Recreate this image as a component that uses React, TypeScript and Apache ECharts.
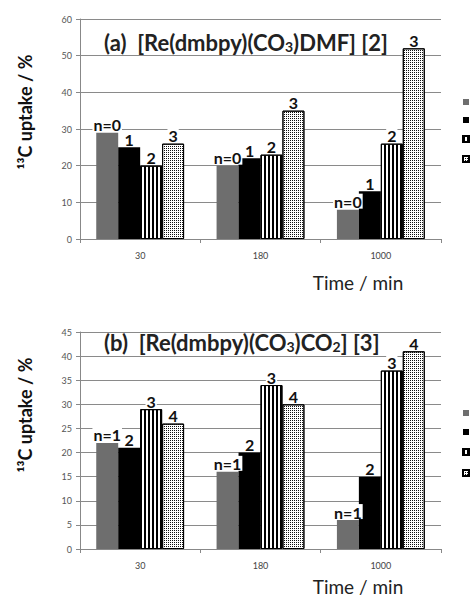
import React, { useEffect, useRef } from 'react';
import * as echarts from 'echarts';

const categories = ['30', '180', '1000'];

// Panel (a): [Re(dmbpy)(CO3)DMF] [2]
const namesA = ['n=0', 'n=1', 'n=2', 'n=3'];
const labelsA = ['n=0', '1', '2', '3'];
const a0 = [29, 20, 8];
const a1 = [25, 22, 13];
const a2 = [20, 23, 26];
const a3 = [26, 35, 52];

// Panel (b): [Re(dmbpy)(CO3)CO2] [3]
const namesB = ['b: n=1', 'b: n=2', 'b: n=3', 'b: n=4'];
const labelsB = ['n=1', '2', '3', '4'];
const b0 = [22, 16, 6];
const b1 = [21, 20, 15];
const b2 = [29, 34, 37];
const b3 = [26, 30, 41];

const yTicksA = { min: 0, max: 60, interval: 10 };
const yTicksB = { min: 0, max: 45, interval: 5 };

const FONT = 'Lato, "Liberation Sans", sans-serif';

const styles: any[] = [
  { color: '#6e6e6e' },
  { color: '#000000' },
  {
    color: '#ffffff',
    borderColor: '#000',
    borderWidth: 1,
    decal: {
      symbol: 'rect',
      symbolSize: 1,
      dashArrayX: [1.5, 1.5],
      dashArrayY: [4, 0],
      rotation: 0,
      color: '#000000',
    },
  },
  {
    color: '#ffffff',
    borderColor: '#000',
    borderWidth: 1,
    decal: {
      symbol: 'rect',
      symbolSize: 1,
      dashArrayX: [1, 1],
      dashArrayY: [1, 1],
      rotation: 0,
      color: '#111111',
    },
  },
];

function makeSeries(names: string[], labels: string[], data: number[][], idx: number) {
  return data.map((d, i) => ({
    name: names[i],
    type: 'bar',
    xAxisIndex: idx,
    yAxisIndex: idx,
    data: d,
    barGap: '0%',
    barCategoryGap: '27%',
    itemStyle: styles[i],
    label: {
      show: true,
      position: 'top',
      distance: 1,
      formatter: () => labels[i],
      fontFamily: FONT,
      fontWeight: 'bold',
      fontSize: 16,
      color: '#111',
      backgroundColor: '#fff',
      padding: [0, 1, -1, 1],
    },
  }));
}

function xAxis(idx: number) {
  return {
    type: 'category',
    gridIndex: idx,
    data: categories,
    axisLine: { lineStyle: { color: '#888', width: 1 } },
    axisTick: { show: true, length: 4, lineStyle: { color: '#888' } },
    axisLabel: { color: '#444', fontSize: 9, margin: 12, fontFamily: FONT },
  };
}

function yAxis(idx: number, t: any) {
  return {
    type: 'value',
    gridIndex: idx,
    min: t.min,
    max: t.max,
    interval: t.interval,
    axisLine: { show: true, lineStyle: { color: '#888', width: 1 } },
    axisTick: { show: true, length: 4, lineStyle: { color: '#888' } },
    splitLine: { lineStyle: { color: '#8a8a8a', width: 1 } },
    axisLabel: { color: '#555', fontSize: 9, margin: 8, fontFamily: FONT },
  };
}

const richTitle = {
  t: { fontFamily: FONT, fontWeight: 'bold', fontSize: 22, color: '#222' },
  s: { fontFamily: FONT, fontWeight: 'bold', fontSize: 14, color: '#222', verticalAlign: 'bottom', padding: [8, 0, 0, 0] },
};

export default function App() {
  const ref = useRef<HTMLDivElement>(null);
  useEffect(() => {
    if (!ref.current) return;
    const chart = echarts.init(ref.current, null, { renderer: 'svg' });
    const legendCommon = {
      orient: 'vertical',
      left: 462,
      padding: 0,
      icon: 'rect',
      itemWidth: 6,
      itemHeight: 6,
      textStyle: { fontSize: 9, lineHeight: 10, color: '#444', fontFamily: FONT },
      formatter: () => '',
      selectedMode: false,
    };
    chart.setOption({
      animation: false,
      backgroundColor: '#ffffff',
      title: [
        {
          text: '{t|(a)  [Re(dmbpy)(CO}{s|3}{t|)DMF] [2]}',
          left: 104,
          top: 31,
          padding: 0,
          textStyle: { rich: richTitle },
        },
        {
          text: '{t|(b)  [Re(dmbpy)(CO}{s|3}{t|)CO}{s|2}{t|] [3]}',
          left: 104,
          top: 331,
          padding: 0,
          textStyle: { rich: richTitle },
        },
      ],
      legend: [
        { ...legendCommon, top: 99, itemGap: 12, data: namesA },
        { ...legendCommon, top: 410, itemGap: 13, data: namesB },
      ],
      grid: [
        { left: 80, right: 30, top: 19, height: 220 },
        { left: 80, right: 30, top: 332, height: 217 },
      ],
      xAxis: [xAxis(0), xAxis(1)],
      yAxis: [yAxis(0, yTicksA), yAxis(1, yTicksB)],
      series: [
        ...makeSeries(namesA, labelsA, [a0, a1, a2, a3], 0),
        ...makeSeries(namesB, labelsB, [b0, b1, b2, b3], 1),
      ],
      graphic: [
        {
          type: 'text',
          x: 25,
          y: 112,
          rotation: Math.PI / 2,
          style: {
            text: '¹³C uptake / %',
            fontFamily: FONT,
            fontWeight: 'bold',
            fontSize: 18,
            fill: '#111',
            textAlign: 'center',
            textVerticalAlign: 'middle',
          },
        },
        {
          type: 'text',
          x: 25,
          y: 415,
          rotation: Math.PI / 2,
          style: {
            text: '¹³C uptake / %',
            fontFamily: FONT,
            fontWeight: 'bold',
            fontSize: 18,
            fill: '#111',
            textAlign: 'center',
            textVerticalAlign: 'middle',
          },
        },
        {
          type: 'text',
          x: 358,
          y: 282,
          style: {
            text: 'Time / min',
            fontFamily: FONT,
            fontSize: 19,
            fill: '#222',
            textAlign: 'center',
            textVerticalAlign: 'middle',
          },
        },
        {
          type: 'text',
          x: 358,
          y: 586,
          style: {
            text: 'Time / min',
            fontFamily: FONT,
            fontSize: 19,
            fill: '#222',
            textAlign: 'center',
            textVerticalAlign: 'middle',
          },
        },
      ],
    });
    return () => chart.dispose();
  }, []);
  return (
    <div
      ref={ref}
      style={{ position: 'absolute', left: 0, top: 0, width: 471, height: 600, background: '#fff' }}
    />
  );
}
